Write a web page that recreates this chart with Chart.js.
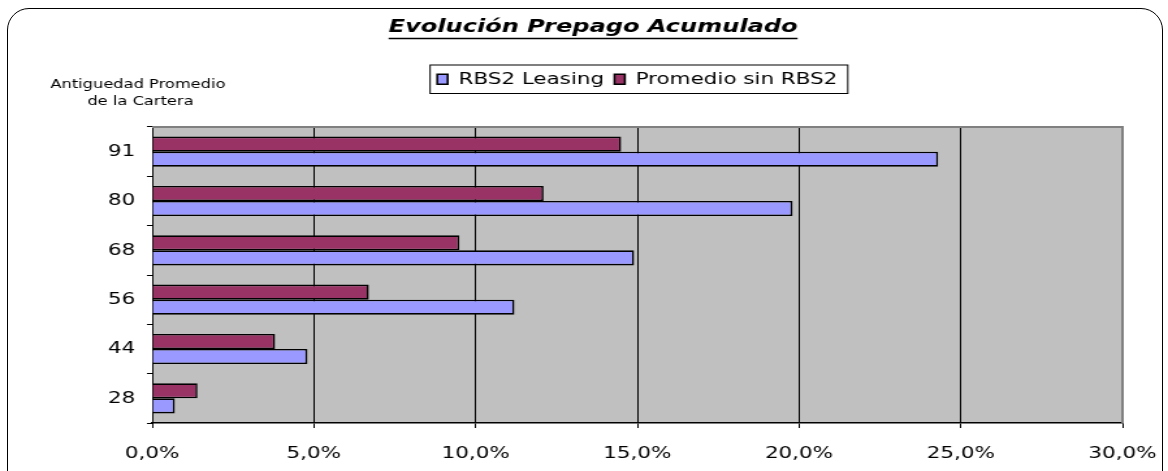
<!DOCTYPE html>
<html>
<head>
<meta charset="utf-8">
<script src="https://cdn.jsdelivr.net/npm/chart.js@4.4.0/dist/chart.umd.min.js"></script>
<style>
    html, body { margin: 0; padding: 0; background: #fff; overflow: hidden; }
    #frame {
        position: absolute; left: 7px; top: 8px; width: 1156px; height: 520px;
        border: 1px solid #000; border-radius: 22px; box-sizing: border-box;
    }
    #chart { position: absolute; left: 0; top: 0; }
</style>
</head>
<body>
<div id="frame"></div>
<!-- drawn narrow and stretched by css, like the original excel picture -->
<canvas id="chart" width="898" height="471" style="width:1168px;height:471px"></canvas>
<script>
// Antiguedad promedio de la cartera (meses)
const ageLabels = ['91', '80', '68', '56', '44', '28'];
// Prepago acumulado, %
const rbs2Leasing = [24.3, 19.8, 14.9, 11.2, 4.8, 0.7];
const promedioSinRbs2 = [14.5, 12.1, 9.5, 6.7, 3.8, 1.4];
const xTicks = [0, 5, 10, 15, 20, 25, 30];

const FONT = '"DejaVu Sans", Verdana, sans-serif';

const excelLook = {
    id: 'excelLook',
    beforeDraw(chart) {
        const { ctx, chartArea: a } = chart;
        ctx.save();
        ctx.fillStyle = '#C0C0C0';
        ctx.fillRect(a.left, a.top, a.right - a.left, a.bottom - a.top);
        ctx.restore();
    },
    afterDraw(chart) {
        const { ctx, chartArea: a } = chart;
        ctx.save();

        // gray frame on top / right of plot area
        ctx.strokeStyle = '#808080';
        ctx.lineWidth = 2;
        ctx.beginPath();
        ctx.moveTo(a.left, a.top);
        ctx.lineTo(a.right, a.top);
        ctx.lineTo(a.right, a.bottom);
        ctx.stroke();

        // title, underlined
        const title = 'Evolución Prepago Acumulado';
        const tx = chart.width / 2 + 7;
        ctx.font = 'italic bold 18.5px ' + FONT;
        ctx.fillStyle = '#000';
        ctx.textAlign = 'center';
        ctx.textBaseline = 'middle';
        ctx.fillText(title, tx, 27);
        const w = ctx.measureText(title).width;
        ctx.strokeStyle = '#000';
        ctx.lineWidth = 1.5;
        ctx.beginPath();
        ctx.moveTo(tx - w / 2, 38.5);
        ctx.lineTo(tx + w / 2, 38.5);
        ctx.stroke();

        // category axis caption
        ctx.font = '12.5px ' + FONT;
        ctx.fillText('Antiguedad Promedio', a.left - 11, 85);
        ctx.fillText('de la Cartera', a.left - 9, 102);

        // legend frame
        const boxes = chart.legend.legendHitBoxes;
        if (boxes && boxes.length) {
            const first = boxes[0];
            const last = boxes[boxes.length - 1];
            ctx.strokeStyle = '#000';
            ctx.lineWidth = 1;
            ctx.strokeRect(first.left - 5.5, first.top - 6, last.left + last.width + 8 - first.left + 5.5, first.height + 12);
        }
        ctx.restore();
    }
};

const ctx = document.getElementById('chart').getContext('2d');
new Chart(ctx, {
    type: 'bar',
    data: {
        labels: ageLabels,
        datasets: [
            {
                label: 'RBS2 Leasing',
                data: rbs2Leasing,
                backgroundColor: '#9999FF',
                borderColor: '#000',
                borderWidth: 1.6,
                order: 1
            },
            {
                label: 'Promedio sin RBS2',
                data: promedioSinRbs2,
                backgroundColor: '#993366',
                borderColor: '#000',
                borderWidth: 1.6,
                order: 0   // sits above the blue bar in each group
            }
        ]
    },
    options: {
        indexAxis: 'y',
        responsive: false,
        devicePixelRatio: 1,
        animation: false,
        categoryPercentage: 0.61,
        barPercentage: 1,
        layout: { padding: { top: 63, right: 35, bottom: 0, left: 0 } },
        scales: {
            x: {
                min: 0,
                max: 30,
                afterBuildTicks: s => { s.ticks = xTicks.map(v => ({ value: v })); },
                afterFit: s => {
                    s.height = 48;
                    // layout padding already leaves room for the end labels
                    s.paddingLeft = 0;
                    s.paddingRight = 0;
                },
                grid: {
                    color: c => (c.tick && c.tick.value === 30 ? '#808080' : '#000'),
                    tickColor: '#000',
                    tickLength: 5,
                    lineWidth: 1
                },
                border: { color: '#000', width: 1.5 },
                ticks: {
                    color: '#000',
                    padding: 16,
                    font: { family: FONT, size: 16.5 },
                    callback: v => v.toFixed(1).replace('.', ',') + '%'
                }
            },
            xTop: {
                type: 'linear',
                position: 'top',
                display: true,
                grid: { display: false },
                border: { display: false },
                ticks: { display: false },
                afterFit: s => { s.height = 29.5; }
            },
            y: {
                afterFit: s => { s.width = 117; },
                grid: {
                    drawOnChartArea: false,
                    color: '#000',
                    tickLength: 4
                },
                border: { color: '#000', width: 1 },
                ticks: {
                    color: '#000',
                    padding: 9,
                    font: { family: FONT, size: 16.5 }
                }
            }
        },
        plugins: {
            title: { display: false },
            tooltip: { enabled: false },
            legend: {
                position: 'top',
                fullSize: false,
                labels: {
                    color: '#000',
                    boxWidth: 8,
                    boxHeight: 10,
                    padding: 8,
                    font: { family: FONT, size: 16.5 },
                    sort: (a, b) => a.datasetIndex - b.datasetIndex
                }
            }
        }
    },
    plugins: [excelLook]
});
</script>
</body>
</html>
